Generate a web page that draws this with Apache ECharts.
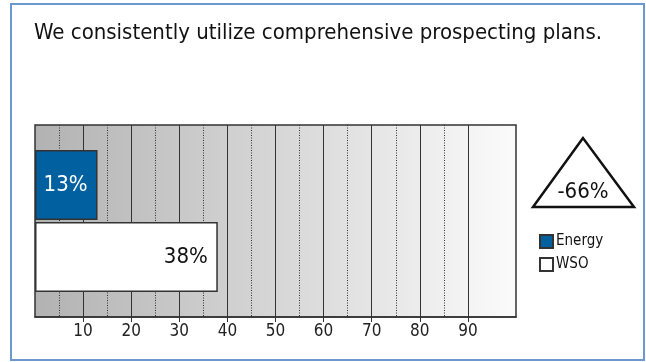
<!DOCTYPE html>
<html>
<head>
<meta charset="utf-8">
<script src="https://cdn.jsdelivr.net/npm/echarts@6/dist/echarts.min.js"></script>
<style>
  html, body { margin: 0; padding: 0; background: #fff; }
  #chart { width: 646px; height: 362px; }
</style>
</head>
<body>
<div id="chart"></div>
<script>
const titleText = 'We consistently utilize comprehensive prospecting plans.';
const categories = [''];
const seriesNames = ['Energy', 'WSO'];
const energyValues = [13];
const wsoValues = [38];
const tickValues = [10, 20, 30, 40, 50, 60, 70, 80, 90];
const dottedValues = [5, 15, 25, 35, 45, 55, 65, 75, 85];

const FONT = '"DejaVu Sans Condensed", "DejaVu Sans", Tahoma, sans-serif';
const change = Math.round((energyValues[0] - wsoValues[0]) / wsoValues[0] * 100);

const chartDom = document.getElementById('chart');
const myChart = echarts.init(chartDom);

const barLabel = {
  show: true,
  position: 'insideRight',
  distance: 10,
  formatter: '{c}%',
  fontSize: 22,
  fontFamily: FONT
};

const option = {
  animation: false,
  textStyle: { fontFamily: FONT },
  title: {
    text: titleText,
    left: 34,
    top: 22,
    padding: 0,
    textStyle: { fontFamily: FONT, fontSize: 22, fontWeight: 'normal', color: '#111' }
  },
  legend: {
    data: seriesNames,
    orient: 'vertical',
    left: 539,
    top: 234,
    padding: 0,
    itemWidth: 13,
    itemHeight: 13,
    itemGap: 8,
    icon: 'rect',
    textStyle: { fontFamily: FONT, fontSize: 15, color: '#111', padding: [0, 0, 0, -2] }
  },
  grid: {
    left: 35,
    right: 130,
    top: 125,
    bottom: 45,
    show: true,
    borderColor: '#333',
    borderWidth: 1.5,
    backgroundColor: new echarts.graphic.LinearGradient(0, 0, 1, 0, [
      { offset: 0, color: '#b2b2b2' },
      { offset: 1, color: '#fbfbfb' }
    ])
  },
  xAxis: {
    type: 'value',
    min: 0,
    max: 100,
    interval: 10,
    axisLine: { show: true, lineStyle: { color: '#333', width: 1.5 } },
    axisTick: {
      show: true,
      customValues: tickValues,
      length: 5,
      lineStyle: { color: '#333' }
    },
    axisLabel: {
      customValues: tickValues,
      margin: 6,
      fontSize: 17,
      color: '#222',
      fontFamily: FONT
    },
    splitLine: { show: true, lineStyle: { color: '#333', width: 1 } }
  },
  yAxis: {
    type: 'category',
    data: categories,
    inverse: true,
    axisLine: { show: false },
    axisTick: { show: false },
    axisLabel: { show: false }
  },
  series: [
    {
      name: seriesNames[0],
      type: 'bar',
      data: energyValues,
      barWidth: 70,
      barGap: '3%',
      itemStyle: { color: '#0060a0', borderColor: '#333', borderWidth: 1.5 },
      label: Object.assign({}, barLabel, { color: '#fff' }),
      z: 5
    },
    {
      name: seriesNames[1],
      type: 'bar',
      data: wsoValues,
      barWidth: 70,
      itemStyle: { color: '#ffffff', borderColor: '#333', borderWidth: 1.5 },
      label: Object.assign({}, barLabel, { color: '#111' }),
      z: 5
    },
    {
      name: 'minor',
      type: 'line',
      data: [],
      z: 1,
      markLine: {
        silent: true,
        symbol: 'none',
        z: 1,
        label: { show: false },
        lineStyle: { color: '#333', type: [1, 1.5], width: 1 },
        data: dottedValues.map(v => ({ xAxis: v }))
      }
    }
  ],
  graphic: [
    {
      type: 'rect',
      shape: { x: 11, y: 4, width: 633, height: 356 },
      style: { fill: 'none', stroke: '#6b98ce', lineWidth: 2 },
      silent: true
    },
    {
      type: 'polygon',
      shape: { points: [[583, 138], [533, 207], [634, 207]] },
      style: { fill: '#fff', stroke: '#111', lineWidth: 2.5 },
      silent: true
    },
    {
      type: 'text',
      x: 583,
      y: 192,
      style: {
        text: change + '%',
        fontSize: 22,
        fontFamily: FONT,
        fill: '#111',
        align: 'center',
        verticalAlign: 'middle'
      },
      silent: true
    }
  ]
};

option && myChart.setOption(option);
</script>
</body>
</html>
